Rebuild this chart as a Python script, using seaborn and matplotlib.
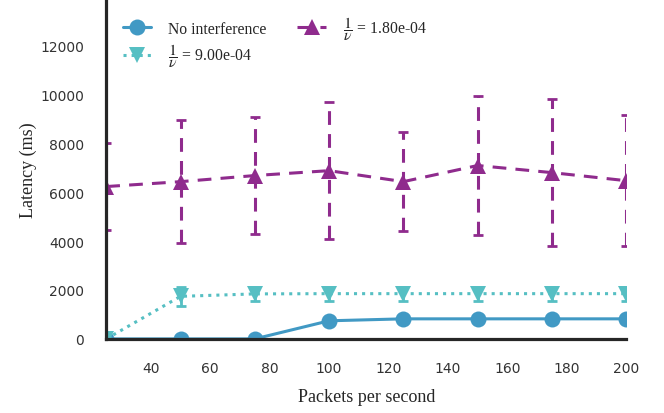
import matplotlib
matplotlib.use("Agg")
import matplotlib.pyplot as plt
import seaborn as sns

# packets per second on the x axis
pps = [25, 50, 75, 100, 125, 150, 175, 200]

# no interference
lat_none = [0, 0, 0, 740, 820, 820, 820, 820]

# 1/nu = 9.00e-04
lat_9e4 = [0, 1740, 1840, 1850, 1850, 1850, 1850, 1850]
err_9e4 = [60, 400, 280, 280, 280, 280, 280, 280]

# 1/nu = 1.80e-04
lat_18e4 = [6230, 6430, 6680, 6880, 6430, 7090, 6800, 6470]
err_18e4 = [1780, 2520, 2400, 2800, 2030, 2830, 3000, 2690]

c_none = "#4199c4"
c_9e4 = "#56bfc3"
c_18e4 = "#8f2b8d"

sns.set_theme(style="white")
plt.rcParams["font.family"] = ["Liberation Serif", "DejaVu Serif"]
plt.rcParams["mathtext.fontset"] = "stix"

fig = plt.figure(figsize=(6.64, 4.14), dpi=100)
ax = fig.add_axes([0.16, 0.179, 0.783, 0.821])

sns.lineplot(x=pps, y=lat_none, ax=ax, color=c_none, marker="o", markersize=11.5,
             markeredgewidth=0, linewidth=2.2, label="No interference")
sns.lineplot(x=pps, y=lat_9e4, ax=ax, color=c_9e4, marker="v", markersize=11.5,
             markeredgewidth=0, linewidth=2.2, linestyle=":",
             label=r"$\dfrac{1}{\nu}$ = 9.00e-04")
sns.lineplot(x=pps, y=lat_18e4, ax=ax, color=c_18e4, marker="^", markersize=11.5,
             markeredgewidth=0, linewidth=2.2, linestyle=(0, (4.5, 3)),
             label=r"$\dfrac{1}{\nu}$ = 1.80e-04")

# error bars
eb = ax.errorbar(pps, lat_9e4, yerr=err_9e4, fmt="none", ecolor=c_9e4,
                 elinewidth=2, capsize=3.6, capthick=2)
eb = ax.errorbar(pps, lat_18e4, yerr=err_18e4, fmt="none", ecolor=c_18e4,
                 elinewidth=2.2, capsize=3.6, capthick=2)
for lc in eb[2]:
    lc.set_linestyle((0, (4.5, 3)))

ax.set_xlim(25, 200)
ax.set_ylim(0, 13900)
ax.set_xticks([40, 60, 80, 100, 120, 140, 160, 180, 200])
ax.set_yticks([0, 2000, 4000, 6000, 8000, 10000, 12000])

for s in ["top", "right"]:
    ax.spines[s].set_visible(False)
for s in ["left", "bottom"]:
    ax.spines[s].set_linewidth(2.3)
    ax.spines[s].set_color("#262626")

ax.tick_params(axis="y", pad=16, length=0, labelsize=10, labelcolor="#333333")
ax.tick_params(axis="x", pad=16, length=0, labelsize=10, labelcolor="#333333")
for lab in ax.get_xticklabels() + ax.get_yticklabels():
    lab.set_fontfamily("DejaVu Sans")

ax.set_xlabel("Packets per second", fontsize=13, color="#262626", labelpad=9.5)
ax.set_ylabel("Latency (ms)", fontsize=13, color="#262626", labelpad=2)

ax.legend(loc="upper left", ncol=2, frameon=False, fontsize=11.3,
          handlelength=1.8, handletextpad=1.1, columnspacing=1.95,
          labelspacing=0.3, bbox_to_anchor=(0.005, 0.998))

fig.savefig("out.png", dpi=100)
